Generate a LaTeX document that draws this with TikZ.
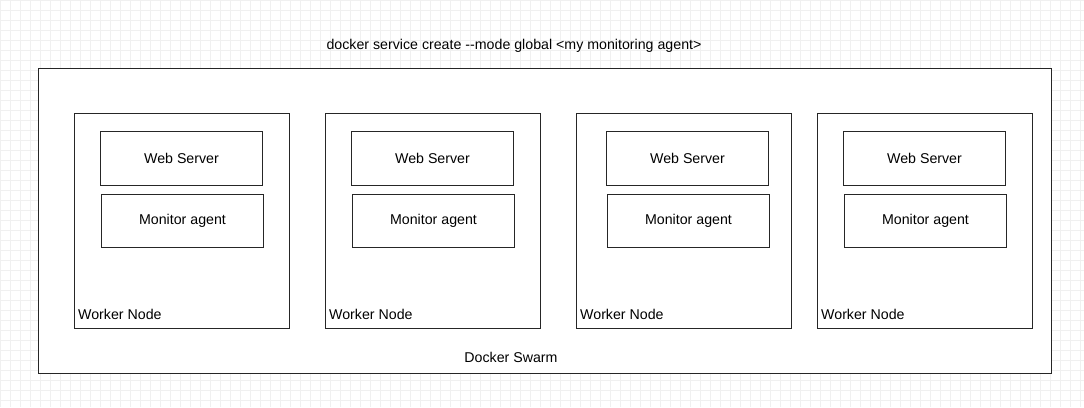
\documentclass[tikz,border=0pt]{standalone}
\usepackage{fontspec}
\setmainfont{Liberation Sans}
\begin{document}
\begin{tikzpicture}[
    x=1pt, y=-1pt,
    box/.style={draw=black!85, line width=1pt, rectangle, anchor=north west, inner sep=0pt},
    label/.style={font=\fontsize{14.2}{16}\selectfont, inner sep=0pt},
    gridline/.style={draw=black!6, line width=0.6pt}
]
\useasboundingbox (0,0) rectangle (1084,407);
% Background grid
\foreach \x in {0,10,...,1080} {
    \draw[gridline] (\x,0) -- (\x,407);
}
\foreach \y in {0,10,...,400} {
    \draw[gridline] (0,\y) -- (1084,\y);
}

% Swarm
\node[box, fill=white, minimum width=1013pt, minimum height=305pt] (swarm) at (38,68) {};
\node[label] (title) at (514,46) {docker service create -{}-mode global <my monitoring agent>};
\node[label] (swarmlabel) at (511,357) {Docker Swarm};

% Worker nodes
\foreach \i/\x/\s in {1/74/26, 2/325/26, 3/576/30, 4/817/26} {
    \node[box, minimum width=215pt, minimum height=215pt] (worker\i) at (\x,113) {};
    \node[box, minimum width=162pt, minimum height=54pt, label] (web\i) at (\x+\s,131) {Web Server};
    \node[box, minimum width=162pt, minimum height=53pt, label] (mon\i) at (\x+\s+1,194) {Monitor agent};
    \node[label, anchor=west] (wlabel\i) at (\x+4,314) {Worker Node};
}
\end{tikzpicture}
\end{document}
